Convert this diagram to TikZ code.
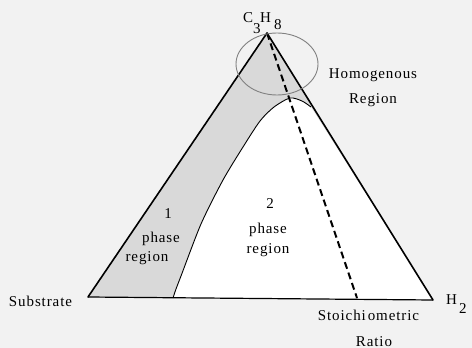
\documentclass[tikz,border=0pt]{standalone}
\usepackage{fontspec}
\setmainfont{Liberation Serif}
\newfontfamily\diagfont[LetterSpace=6]{Liberation Serif}
\usetikzlibrary{calc}

% boundary between the one- and two-phase regions
\newcommand\phaseborder{plot[smooth, tension=0.45] coordinates
  {(173,298) (176,289) (181,276) (201,224) (223,180) (243,147)
   (260,121) (274,107) (290,98) (302,101) (311,107)}}

\begin{document}
\begin{tikzpicture}[x=1pt, y=-1pt,
  lbl/.style={font=\diagfont\fontsize{15}{18}\selectfont, inner sep=0pt, anchor=base},
  edge/.style={line width=1.6pt, line join=round, line cap=round}]
\useasboundingbox (0,0) rectangle (472,348);
\fill[black!5] (0,0) rectangle (472,348);
% Corners of the triangle
\coordinate (apex) at (267,33);
\coordinate (sub) at (88,297);
\coordinate (htwo) at (433,300);
\coordinate (stoich) at (357,298);
% Region 1: shaded band
\fill[black!15] (apex) -- (sub) -- (htwo) -- cycle;
% Region 2: white under the curve
\fill[white] \phaseborder -- (htwo) -- cycle;
\draw[line width=0.9pt] \phaseborder;
% Triangle sides
\draw[edge] (sub) -- (apex) -- (htwo);
\draw[line width=1.2pt] (sub) -- (htwo);
% Stoichiometric line
\draw[line width=2pt, dash pattern=on 7pt off 4pt] (apex) -- (stoich);
% Homogenous region
\draw[gray, line width=0.9pt] (277,64) ellipse [x radius=41, y radius=31];
% Labels
\node[lbl, anchor=base west] (propane) at (243,22)
  {C\raisebox{-11pt}{3}\kern-0.5pt H\kern3pt\raisebox{-8pt}{8}};
\node[lbl] (homog) at (373,78) {Homogenous};
\node[lbl] (homogb) at (373,103) {Region};
\node[lbl] (onenum) at (168,218) {1};
\node[lbl] (onephase) at (161,242) {phase};
\node[lbl] (onereg) at (147,261) {region};
\node[lbl] (twonum) at (270,208) {2};
\node[lbl] (twophase) at (268,233) {phase};
\node[lbl] (tworeg) at (268,253) {region};
\node[lbl] (substrate) at (40.5,306) {Substrate};
\node[lbl, anchor=base west] (hydrogen) at (446,304) {H\kern2pt\raisebox{-9pt}{2}};
\node[lbl] (stoichlbl) at (368.5,320) {Stoichi\kern2pt ometric};
\node[lbl] (ratio) at (374,346) {Ratio};
\end{tikzpicture}
\end{document}
